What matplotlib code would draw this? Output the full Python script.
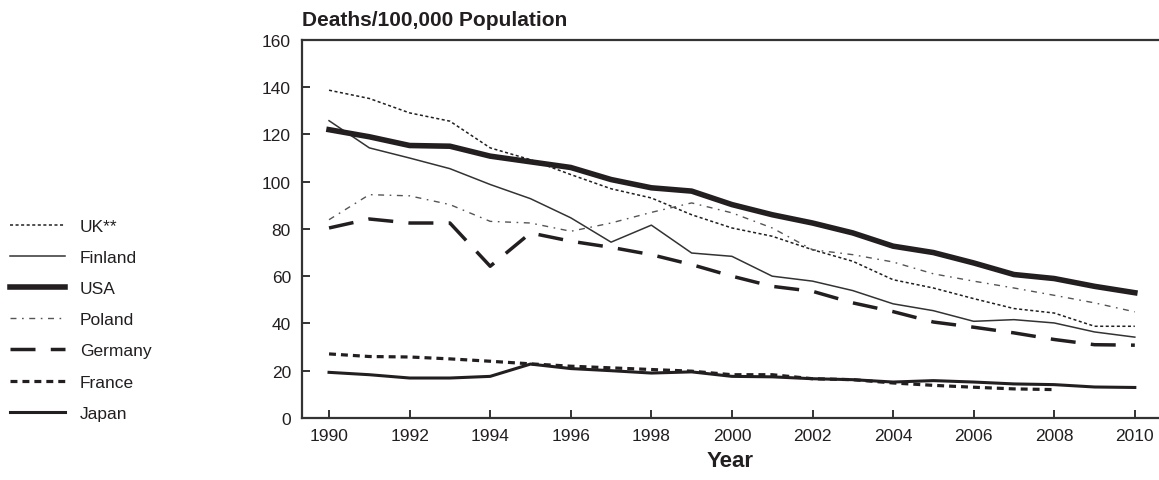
import matplotlib
matplotlib.use("Agg")
import matplotlib.pyplot as plt

plt.rcParams['font.family'] = ['Liberation Sans', 'DejaVu Sans']
plt.rcParams['lines.scale_dashes'] = False

years = list(range(1990, 2011))
uk = [138.7, 135.2, 129.1, 125.6, 114.3, 109.3, 103.0, 97.0, 93.1, 86.0, 80.4,
      76.9, 71.2, 66.3, 58.5, 55.0, 50.5, 46.3, 44.4, 38.8, 38.8]
finland = [125.8, 114.3, 110.0, 105.5, 98.8, 92.8, 84.7, 74.4, 81.6, 69.8, 68.4,
           60.0, 57.9, 53.9, 48.3, 45.4, 40.9, 41.6, 40.2, 36.4, 34.2]
usa = [122.0, 119.0, 115.3, 115.0, 110.8, 108.4, 106.0, 100.9, 97.4, 96.0, 90.3,
       86.0, 82.5, 78.3, 72.7, 70.0, 65.6, 60.7, 59.0, 55.7, 53.0]
poland = [83.9, 94.5, 94.0, 90.3, 83.2, 82.5, 79.0, 82.5, 87.0, 91.0, 86.8,
          80.4, 71.2, 69.1, 66.0, 61.0, 57.9, 55.0, 51.9, 48.7, 44.9]
germany = [80.4, 84.2, 82.5, 82.5, 64.2, 78.3, 74.8, 72.2, 69.1, 64.9, 60.0,
           55.7, 53.6, 48.7, 45.0, 40.6, 38.4, 36.0, 33.2, 31.0, 30.8]
france_years = list(range(1990, 2009))
france = [27.1, 26.0, 25.8, 25.0, 24.0, 22.9, 21.9, 21.2, 20.5, 19.8, 18.3,
          18.3, 16.6, 16.2, 14.8, 13.8, 13.0, 12.3, 12.0]
japan = [19.3, 18.3, 16.9, 16.9, 17.6, 22.8, 20.9, 20.0, 19.0, 19.5, 17.6,
         17.4, 16.6, 16.2, 15.2, 15.8, 15.2, 14.4, 14.1, 13.1, 12.9]

fig = plt.figure(figsize=(11.59, 4.81), dpi=100)
ax = fig.add_axes([0.2606, 0.129, 0.7394, 0.786])

ink = '#231f20'
ax.plot(years, uk, color=ink, lw=1.1, dashes=(2.2, 1.8), label='UK**')
ax.plot(years, finland, color='#333333', lw=1.1, label='Finland')
ax.plot(years, usa, color=ink, lw=4.0, label='USA')
ax.plot(years, poland, color='#555555', lw=1.0, dashes=(4.3, 4.0, 1.2, 4.0), label='Poland')
ax.plot(years, germany, color=ink, lw=2.5, dashes=(18, 11), label='Germany')
ax.plot(france_years, france, color=ink, lw=2.3, dashes=(5, 3.6), label='France')
ax.plot(years, japan, color=ink, lw=2.2, label='Japan')

ax.set_xlim(1989.33, 2010.6)
ax.set_ylim(0, 160)
ax.set_xticks(range(1990, 2011, 2))
ax.set_yticks(range(0, 161, 20))
ax.spines['right'].set_visible(False)
for s in ['left', 'top', 'bottom']:
    ax.spines[s].set_linewidth(1.6)
    ax.spines[s].set_color('#333333')
ax.tick_params(axis='both', direction='in', length=6, width=1.4, color='#333333',
               labelsize=12.5, labelcolor=ink)
ax.tick_params(axis='y', pad=8)
ax.tick_params(axis='x', pad=7)

ax.set_xlabel('Year', fontsize=16, fontweight='bold', color=ink, labelpad=5)
fig.text(0.2606, 0.945, 'Deaths/100,000 Population', fontsize=15, fontweight='bold',
         color=ink, ha='left', va='baseline')

fig.legend(loc='upper left', bbox_to_anchor=(0.0086, 0.543), frameon=False,
           fontsize=12.5, handlelength=3.16, handletextpad=0.86, labelspacing=0.92,
           borderpad=0, borderaxespad=0, labelcolor=ink)

fig.savefig('out.png', dpi=100)
